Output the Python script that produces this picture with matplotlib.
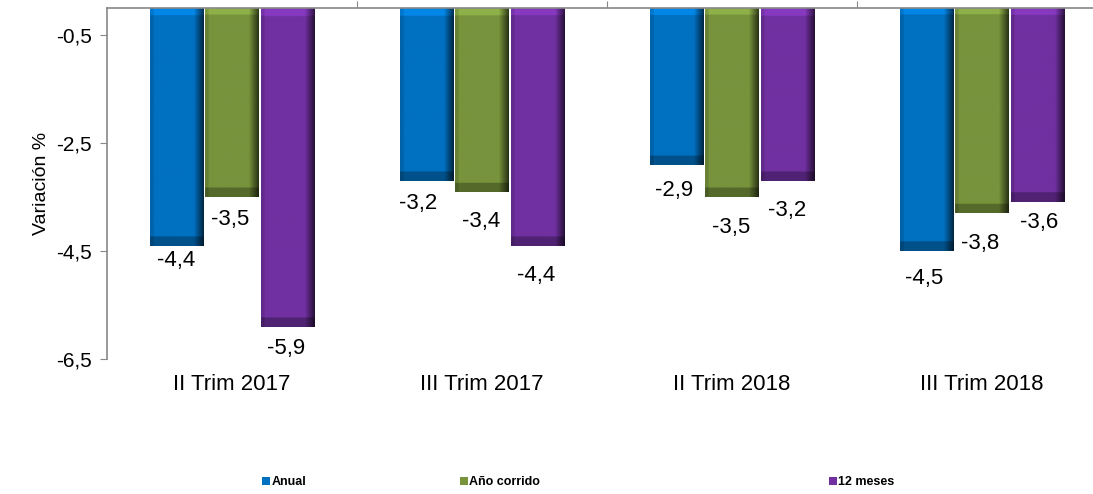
import numpy as np
import matplotlib
matplotlib.use("Agg")
from matplotlib import pyplot as plt
from matplotlib.patches import Patch

plt.rcParams['font.family'] = ['Liberation Sans', 'DejaVu Sans']

categories = ["II Trim 2017", "III Trim 2017", "II Trim 2018", "III Trim 2018"]
series_names = ["Anual", "Año corrido", "12 meses"]
anual = [-4.4, -3.2, -2.9, -4.5]
ano_corrido = [-3.5, -3.4, -3.5, -3.8]
doce_meses = [-5.9, -4.4, -3.2, -3.6]
y_ticks = [-0.5, -2.5, -4.5, -6.5]

colors = ["#0070C0", "#77933C", "#7030A0"]
# label offsets in pixels (dx, dy below bar end), hand-tuned like the original
label_dx = [[0, -8, -2, -2], [-2, -1, -1, -2], [-1, -1, 0, 2]]
label_dy = [[15, 23, 26, 27], [22, 30, 30, 30], [22, 30, 30, 20]]


def shade_bar(ax, bar, color):
    # fake the bevelled Excel look: dark right edge, dark bottom band, light top
    base = np.array(matplotlib.colors.to_rgb(color))
    nx, ny = 60, 200
    h_px = abs(bar.get_height()) * 54.0
    t = np.linspace(0, 1, nx)
    fx = np.ones(nx)
    fx = np.where(t > 0.82, 1 - (t - 0.82) / 0.18 * 0.65, fx)
    fx = np.where(t < 0.06, 0.88, fx)
    s = np.linspace(0, h_px, ny)
    fy = np.ones(ny)
    fy = np.where(s < 7, 1.2, fy)
    fy = np.where(s > h_px - 9, 0.72, fy)
    f = np.outer(fy, fx)[..., None]
    img = np.clip(base[None, None, :] * f, 0, 1)
    x0 = bar.get_x()
    x1 = x0 + bar.get_width()
    y0 = bar.get_y()
    y1 = y0 + bar.get_height()
    im = ax.imshow(img, extent=(x0, x1, y1, y0), aspect='auto',
                   interpolation='bilinear', zorder=2)
    im.set_clip_path(bar)


fig = plt.figure(figsize=(10.93, 4.94), dpi=100)
ax = fig.add_axes([107 / 1093, 1 - 359 / 494, 1000 / 1093, 351 / 494])

x = np.arange(len(categories))
width = 0.214
offsets = [-0.222, 0.0, 0.222]
all_series = [anual, ano_corrido, doce_meses]

for k, vals in enumerate(all_series):
    bars = ax.bar(x + offsets[k], vals, width, color=colors[k], zorder=1)
    for j, b in enumerate(bars):
        shade_bar(ax, b, colors[k])
        ax.annotate(f"{vals[j]:.1f}".replace(".", ","),
                    xy=(b.get_x() + b.get_width() / 2, vals[j]),
                    xytext=(label_dx[k][j], -label_dy[k][j]),
                    textcoords='offset pixels', ha='center', va='center',
                    fontsize=16, color='black', zorder=3)

ax.set_xlim(-0.5, len(categories) - 0.5)
ax.set_ylim(-6.5, 0)
ax.set_yticks(y_ticks)
ax.set_yticklabels([f"{v:.1f}".replace(".", ",") for v in y_ticks], fontsize=15)
ax.set_ylabel("Variación %", fontsize=14, labelpad=4)

ax.xaxis.tick_top()
ax.set_xticks(np.arange(len(categories) - 1) + 0.5)
ax.set_xticklabels([])
ax.tick_params(axis='x', length=5, color='#888888', direction='out')
ax.tick_params(axis='y', length=5, color='#888888', direction='out', pad=6)

for sp in ['right', 'bottom']:
    ax.spines[sp].set_visible(False)
for sp in ['left', 'top']:
    ax.spines[sp].set_color('#888888')
    ax.spines[sp].set_linewidth(1.2)

for i, c in enumerate(categories):
    ax.annotate(c, xy=(i, 0), xycoords=('data', 'axes fraction'),
                xytext=(0, -25), textcoords='offset pixels',
                ha='center', va='center', fontsize=16)

legend_x = [262, 460, 829]
for k in range(3):
    h = Patch(facecolor=colors[k], edgecolor='none')
    fig.legend([h], [series_names[k]], loc='center left',
               bbox_to_anchor=(legend_x[k] / 1093, 1 - 482 / 494),
               frameon=False, handlelength=0.6, handleheight=0.6,
               handletextpad=0.15, borderpad=0, borderaxespad=0,
               prop={'weight': 'bold', 'size': 9})

fig.savefig("out.png", dpi=100)
